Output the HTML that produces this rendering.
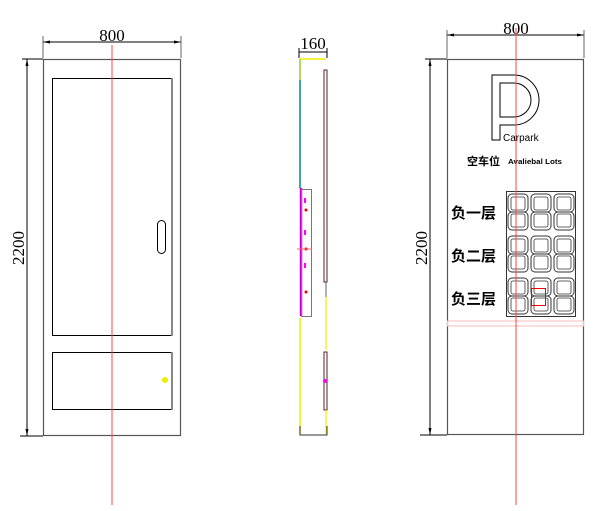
<!DOCTYPE html>
<html><head><meta charset="utf-8"><style>
html,body{margin:0;padding:0;background:#fff;}
svg{display:block}
</style></head><body>
<svg width="600" height="511" viewBox="0 0 600 511" xmlns="http://www.w3.org/2000/svg">
<defs>
<g id="dg">
  <rect x="1" y="1" width="20" height="18" rx="4" fill="none" stroke="#333" stroke-width="1"/>
  <rect x="1" y="19" width="20" height="18" rx="4" fill="none" stroke="#333" stroke-width="1"/>
  <rect x="4" y="4" width="14" height="13" rx="2" fill="none" stroke="#333" stroke-width="0.8"/>
  <rect x="4" y="21" width="14" height="13" rx="2" fill="none" stroke="#333" stroke-width="0.8"/>
</g>
</defs>
<!-- LEFT VIEW -->
<g font-family="Liberation Serif, serif" font-size="17" fill="#000">
<line x1="43" y1="42" x2="181" y2="42" stroke="#000"/>
<line x1="43" y1="36" x2="43" y2="58" stroke="#666"/>
<line x1="181" y1="36" x2="181" y2="58" stroke="#666"/>
<polygon points="43,42 50,40.5 50,43.5" fill="#000"/>
<polygon points="181,42 174,40.5 174,43.5" fill="#000"/>
<text x="112" y="41" text-anchor="middle">800</text>
<line x1="27" y1="59" x2="27" y2="436" stroke="#000"/>
<line x1="22" y1="59" x2="43" y2="59" stroke="#000"/>
<line x1="20" y1="436" x2="43" y2="436" stroke="#000"/>
<polygon points="27,59 25.5,66 28.5,66" fill="#000"/>
<polygon points="27,436 25.5,429 28.5,429" fill="#000"/>
<text transform="translate(24,248) rotate(-90)" text-anchor="middle">2200</text>
</g>
<rect x="43.5" y="59.5" width="137" height="376" fill="none" stroke="#555" stroke-width="1.2"/>
<rect x="52.5" y="78.5" width="119" height="257" fill="none" stroke="#000"/>
<line x1="172" y1="78" x2="172" y2="336" stroke="#888" stroke-width="2"/>
<rect x="157.5" y="220.5" width="8" height="33" rx="4" fill="none" stroke="#000"/>
<rect x="52.5" y="352.5" width="119" height="57" fill="none" stroke="#000"/>
<line x1="172" y1="352" x2="172" y2="410" stroke="#888" stroke-width="2"/>
<circle cx="165" cy="380" r="3" fill="#ee0"/>
<line x1="112" y1="45" x2="112" y2="505" stroke="#f44" stroke-width="1"/>

<!-- SIDE VIEW -->
<g font-family="Liberation Serif, serif" font-size="17">
<text x="313" y="49" text-anchor="middle">160</text>
<line x1="299" y1="52" x2="327" y2="52" stroke="#000"/>
<line x1="299" y1="48" x2="299" y2="58" stroke="#000"/>
<line x1="327" y1="48" x2="327" y2="58" stroke="#000"/>
</g>
<line x1="300" y1="59" x2="326" y2="59" stroke="#ee0" stroke-width="1.5"/>
<line x1="300" y1="59" x2="300" y2="80" stroke="#9c3" stroke-width="1.5"/>
<line x1="300" y1="80" x2="300" y2="188" stroke="#088" stroke-width="1.5"/>
<line x1="301" y1="188" x2="301" y2="316" stroke="#c0c" stroke-width="2.5"/>
<line x1="300" y1="318" x2="300" y2="434" stroke="#ee0" stroke-width="1.5"/>
<rect x="301.5" y="189.5" width="10" height="127" fill="none" stroke="#777"/>
<rect x="304" y="198" width="2" height="5" fill="#f0f"/>
<rect x="304" y="230" width="2" height="5" fill="#f0f"/>
<rect x="304" y="263" width="2" height="5" fill="#f0f"/>
<circle cx="306" cy="210" r="1.5" fill="#e00"/>
<circle cx="306" cy="249" r="1.5" fill="#e00"/>
<circle cx="306" cy="292" r="1.5" fill="#e00"/>
<line x1="297" y1="249" x2="312" y2="249" stroke="#f66"/>
<rect x="324" y="70" width="3" height="212" fill="none" stroke="#522"/>
<line x1="326" y1="282" x2="326" y2="297" stroke="#666"/>
<line x1="326" y1="297" x2="326" y2="350" stroke="#ee0" stroke-width="1.2"/>
<rect x="324" y="352" width="3" height="58" fill="none" stroke="#522"/>
<line x1="326" y1="410" x2="326" y2="434" stroke="#ee0" stroke-width="1.2"/>
<circle cx="325" cy="381" r="2" fill="#f0f"/>
<polyline points="300,426 300,435 327,435 327,426" fill="none" stroke="#333"/>

<!-- RIGHT VIEW -->
<g font-family="Liberation Serif, serif" font-size="17">
<line x1="447" y1="35" x2="584" y2="35" stroke="#000"/>
<line x1="447" y1="30" x2="447" y2="58" stroke="#666"/>
<line x1="584" y1="30" x2="584" y2="58" stroke="#666"/>
<polygon points="447,35 454,33.5 454,36.5" fill="#000"/>
<polygon points="584,35 577,33.5 577,36.5" fill="#000"/>
<text x="516" y="34" text-anchor="middle">800</text>
<line x1="430" y1="59" x2="430" y2="435" stroke="#000"/>
<line x1="425" y1="59" x2="447" y2="59" stroke="#000"/>
<line x1="420" y1="435" x2="447" y2="435" stroke="#000"/>
<polygon points="430,59 428.5,66 431.5,66" fill="#000"/>
<polygon points="430,435 428.5,428 431.5,428" fill="#000"/>
<text transform="translate(427,248) rotate(-90)" text-anchor="middle">2200</text>
</g>
<rect x="447.5" y="59.5" width="136" height="375" fill="none" stroke="#555" stroke-width="1.2"/>
<rect x="447.5" y="321" width="136" height="5" fill="none" stroke="#fbb" stroke-width="1"/>
<!-- P logo -->
<path d="M492,140 L492,75 L514,75 A25,25 0 0 1 514,125 L500,125 L500,140 Z M500,83 L500,117 L514,117 A17,17 0 0 0 514,83 Z" fill="none" stroke="#000" stroke-width="1" fill-rule="evenodd"/>
<text x="503" y="141" font-family="Liberation Sans, sans-serif" font-size="10" fill="#000">Carpark</text>
<text x="467" y="165" font-family="Liberation Sans, Noto Sans CJK SC, sans-serif" font-size="11" font-weight="bold" fill="#000">空车位</text>
<text x="508" y="164" font-family="Liberation Sans, sans-serif" font-size="7.5" font-weight="bold" fill="#000" textLength="54" lengthAdjust="spacingAndGlyphs">Avaliebal Lots</text>
<g font-family="Liberation Sans, Noto Sans CJK SC, sans-serif" font-size="15" font-weight="bold" fill="#000">
<text x="451" y="218">负一层</text>
<text x="451" y="261">负二层</text>
<text x="451" y="304">负三层</text>
</g>
<rect x="506.5" y="191.5" width="69" height="125" fill="none" stroke="#333"/>
<use href="#dg" x="507" y="193"/><use href="#dg" x="530" y="193"/><use href="#dg" x="553" y="193"/>
<use href="#dg" x="507" y="235"/><use href="#dg" x="530" y="235"/><use href="#dg" x="553" y="235"/>
<use href="#dg" x="507" y="277"/><use href="#dg" x="530" y="277"/><use href="#dg" x="553" y="277"/>
<rect x="531.5" y="288.5" width="14" height="17" fill="none" stroke="#e00"/>
<line x1="516" y1="28" x2="516" y2="505" stroke="#f44" stroke-width="1"/>
</svg>
</body></html>
